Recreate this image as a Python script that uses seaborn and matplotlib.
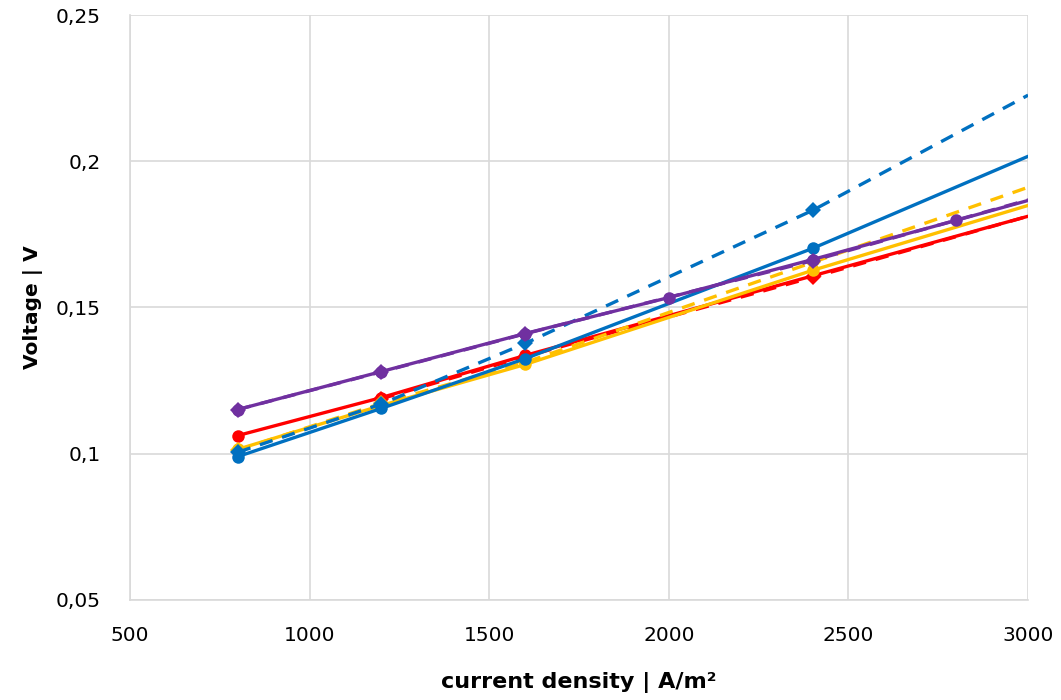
import matplotlib.pyplot as plt
import seaborn as sns
import pandas as pd
from matplotlib.ticker import FuncFormatter, MultipleLocator

# Data (last point of every series is the line end at 3000, drawn without marker)
red_x = [800, 1200, 1600, 3000]
red_y = [0.1062, 0.1192, 0.1336, 0.1812]
red_dash_x = [1200, 1600, 2400, 3000]
red_dash_y = [0.1188, 0.1332, 0.1603, 0.1812]

yellow_x = [800, 1200, 1600, 2400, 3000]
yellow_y = [0.1015, 0.1165, 0.1305, 0.1627, 0.1849]
yellow_dash_x = [800, 1200, 1600, 2400, 3000]
yellow_dash_y = [0.1012, 0.1172, 0.1312, 0.1654, 0.1911]

blue_x = [800, 1200, 1600, 2400, 3000]
blue_y = [0.0990, 0.1155, 0.1325, 0.1702, 0.2017]
blue_dash_x = [800, 1200, 1600, 2400, 3000]
blue_dash_y = [0.1005, 0.1170, 0.1377, 0.1832, 0.2226]

purple_x = [800, 1200, 1600, 2000, 2400, 2800, 3000]
purple_y = [0.1151, 0.1281, 0.1411, 0.1534, 0.1664, 0.1798, 0.1866]
purple_dash_x = [800, 1200, 1600, 2400, 3000]
purple_dash_y = [0.1151, 0.1280, 0.1410, 0.1660, 0.1868]

series = [
    (red_dash_x, red_dash_y, '#FF0000', 'D', True),
    (red_x, red_y, '#FF0000', 'o', False),
    (yellow_dash_x, yellow_dash_y, '#FFC000', 'D', True),
    (yellow_x, yellow_y, '#FFC000', 'o', False),
    (blue_x, blue_y, '#0070C0', 'o', False),
    (blue_dash_x, blue_dash_y, '#0070C0', 'D', True),
    (purple_dash_x, purple_dash_y, '#7030A0', 'D', True),
    (purple_x, purple_y, '#7030A0', 'o', False),
]

sns.set_style('white')
plt.rcParams['font.family'] = ['DejaVu Sans']

fig = plt.figure(figsize=(10.61, 7.0), dpi=100)
ax = fig.add_axes([0.1225, 0.143, 0.8465, 0.8355])

for xs, ys, color, marker, dashed in series:
    df = pd.DataFrame({'x': xs, 'y': ys})
    sns.lineplot(data=df, x='x', y='y', ax=ax, color=color, linewidth=2.4,
                 marker=marker, markersize=9 if marker == 'o' else 8.5,
                 markeredgewidth=0, markevery=list(range(len(xs) - 1)),
                 linestyle=(0, (4, 3)) if dashed else '-', sort=False)

ax.set_xlim(500, 3000)
ax.set_ylim(0.05, 0.25)
ax.xaxis.set_major_locator(MultipleLocator(500))
ax.yaxis.set_major_locator(MultipleLocator(0.05))
ax.yaxis.set_major_formatter(FuncFormatter(lambda v, p: f'{v:.2f}'.rstrip('0').replace('.', ',')))
ax.grid(True, color='#D9D9D9', linewidth=1.2)
ax.set_axisbelow(True)
for s in ['top', 'right']:
    ax.spines[s].set_visible(False)
for s in ['left', 'bottom']:
    ax.spines[s].set_color('#D9D9D9')
    ax.spines[s].set_linewidth(1.2)
ax.tick_params(axis='both', length=0, labelsize=14.5, colors='#000000')
ax.tick_params(axis='x', pad=19)
ax.tick_params(axis='y', pad=21)

ax.set_xlabel('current density | A/m²', fontsize=16, fontweight='bold', labelpad=19, color='black')
ax.set_ylabel('Voltage | V', fontsize=14.5, fontweight='bold', labelpad=9, color='black')

plt.savefig('out.png', dpi=100)
